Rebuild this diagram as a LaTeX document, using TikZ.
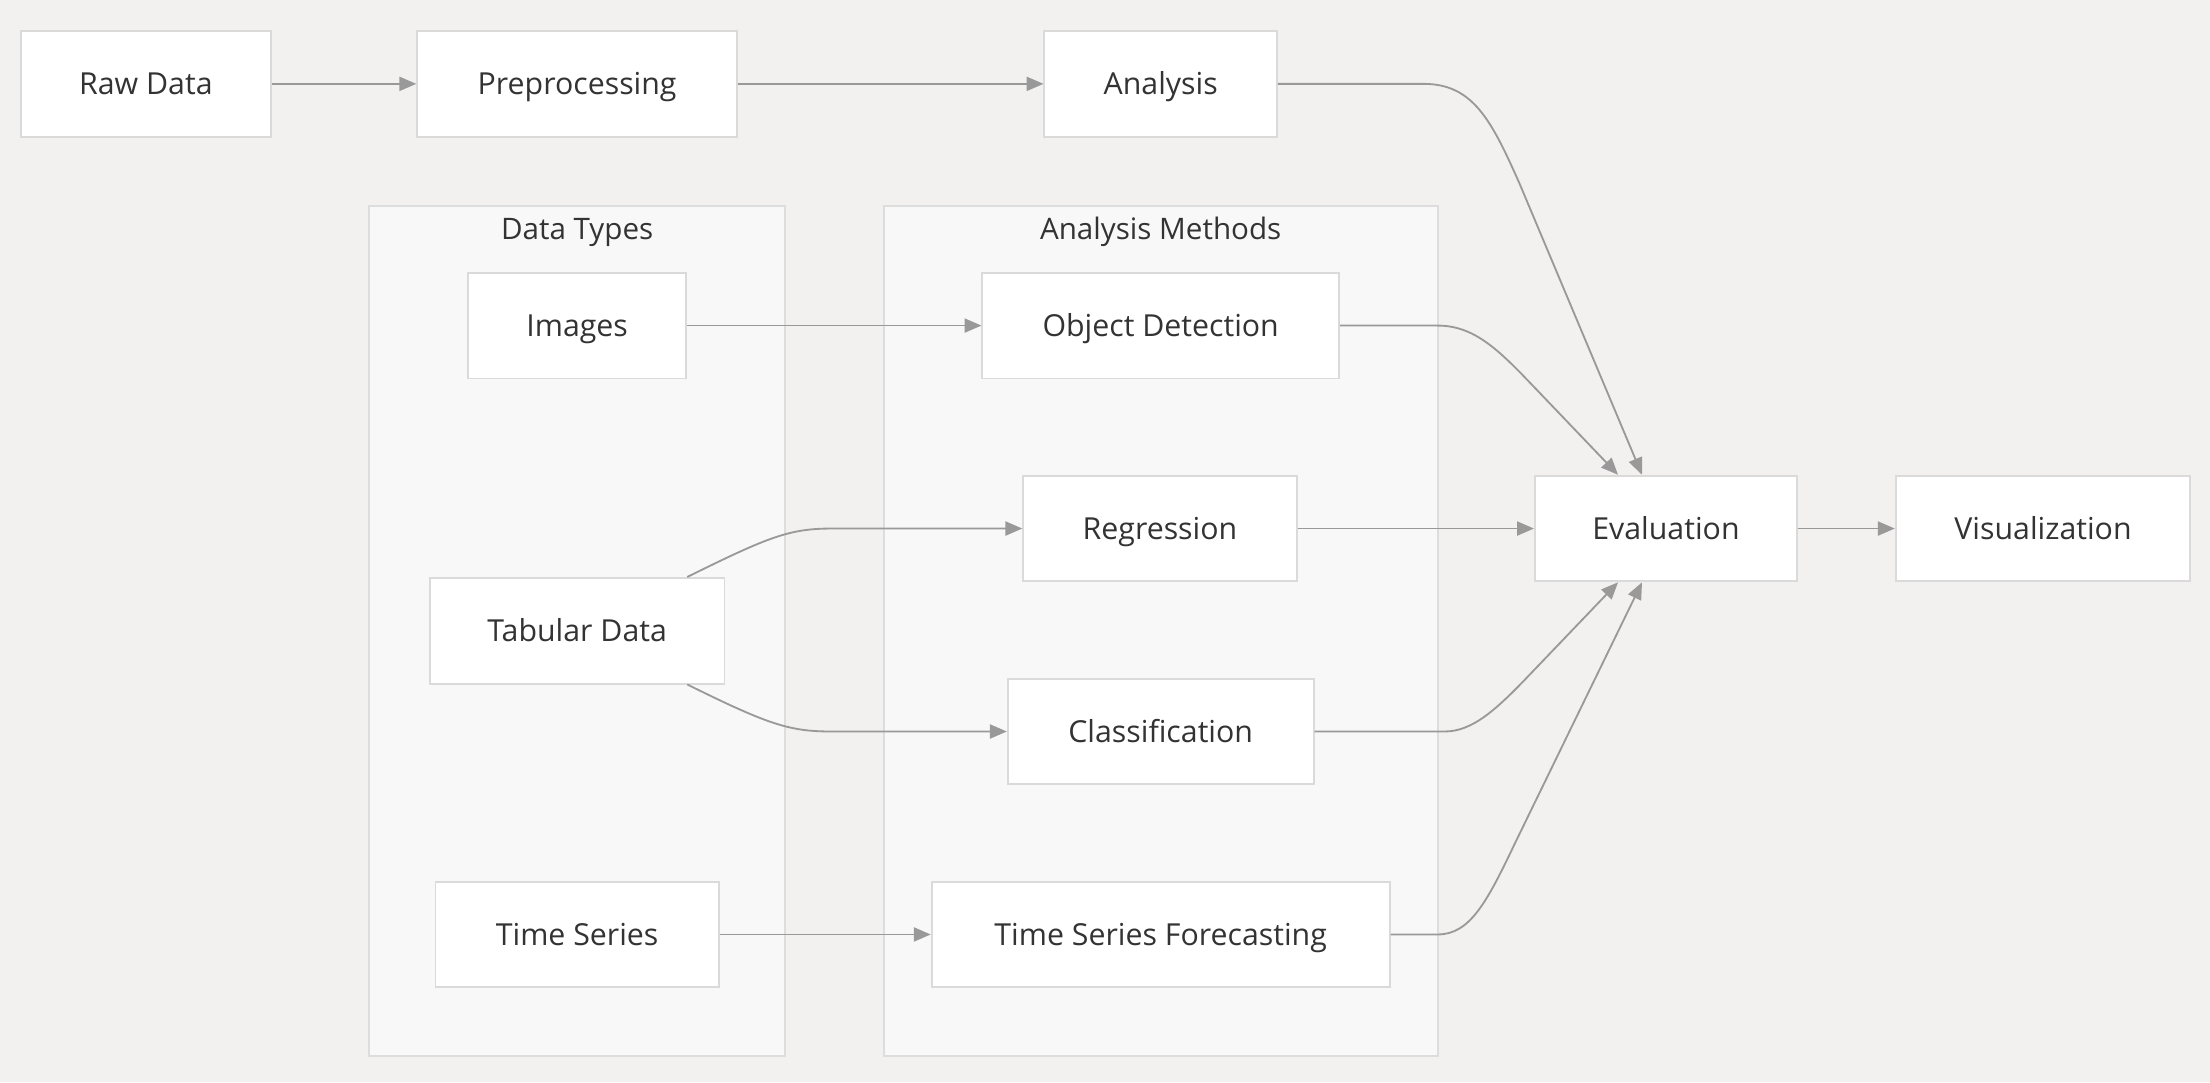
\documentclass[tikz,border=0pt]{standalone}
\usepackage{fontspec}
\setmainfont{Open Sans}
\usetikzlibrary{arrows.meta}
\definecolor{bgc}{HTML}{F2F1F0}
\definecolor{clfill}{HTML}{F8F8F8}
\definecolor{clline}{HTML}{DDDDDD}
\definecolor{ndline}{HTML}{DADADA}
\definecolor{edge}{HTML}{999999}
\definecolor{txt}{HTML}{333333}
\begin{document}
\begin{tikzpicture}[x=1pt,y=-1pt,
  box/.style={draw=ndline,line width=1.3pt,fill=white,inner sep=0pt,minimum height=75pt,text=txt,font=\fontsize{21.5}{25}\selectfont,text height=15.5pt,text depth=0pt},
  cluster/.style={draw=clline,line width=1.3pt,fill=clfill},
  ctitle/.style={text=txt,font=\fontsize{21}{25}\selectfont,inner sep=0pt,text height=15pt,text depth=0pt},
  conn/.style={draw=edge,line width=1.3pt,-{Triangle[length=12pt,width=10pt]}}]
\fill[bgc] (0,0) rectangle (1568,768);
\useasboundingbox (0,0) rectangle (1568,768);
% clusters
\draw[cluster] (262,146) rectangle (557,749);
\draw[cluster] (627,146) rectangle (1020,749);
\node[ctitle] (tDT) at (409.5,162.5) {Data Types};
\node[ctitle] (tAM) at (823.5,162.5) {Analysis Methods};
% nodes
\node[box,minimum width=177pt] (raw) at (103.5,59.5) {Raw Data};
\node[box,minimum width=227pt] (pre) at (409.5,59.5) {Preprocessing};
\node[box,minimum width=165pt] (ana) at (823.5,59.5) {Analysis};
\node[box,minimum width=155pt] (img) at (409.5,231) {Images};
\node[box,minimum width=209pt] (tab) at (409.5,447.5) {Tabular Data};
\node[box,minimum width=201pt] (ts) at (409.5,663) {Time Series};
\node[box,minimum width=253pt] (od) at (823.5,231) {Object Detection};
\node[box,minimum width=194pt] (reg) at (823,375) {Regression};
\node[box,minimum width=217pt] (cls) at (823.5,519) {Classification};
\node[box,minimum width=325pt] (tsf) at (823.5,663) {Time Series Forecasting};
\node[box,minimum width=186pt] (ev) at (1182,375) {Evaluation};
\node[box,minimum width=209pt] (vis) at (1449.5,375) {Visualization};
% anchor points
\coordinate (evn1) at ([xshift=-34pt]ev.north);
\coordinate (evn2) at ([xshift=-17pt]ev.north);
\coordinate (evs1) at ([xshift=-34pt]ev.south);
\coordinate (evs2) at ([xshift=-17pt]ev.south);
\coordinate (tabn) at ([xshift=-27pt]tab.north east);
\coordinate (tabs) at ([xshift=-27pt]tab.south east);
% edges
\draw[conn] (raw.east) -- (pre.west);
\draw[conn] (pre.east) -- (ana.west);
\draw[conn] (img.east) -- (od.west);
\draw[conn] (ts.east) -- (tsf.west);
\draw[conn] (reg.east) -- (ev.west);
\draw[conn] (ev.east) -- (vis.west);
\draw[conn] (ana.east) -- (1010,59.5) .. controls (1045,59.5) and (1058,85) .. (1078,130) -- (evn2);
\draw[conn] (od.east) -- (1020,231) .. controls (1045,231) and (1062,247) .. (1085,271) -- (evn1);
\draw[conn] (cls.east) -- (1025,519) .. controls (1045,519) and (1062,503) .. (1085,479) -- (evs1);
\draw[conn] (tsf.east) -- (1020,663) .. controls (1043,663) and (1055,640) .. (1075,598) -- (evs2);
\draw[conn] (tabn) .. controls (545,381) and (560,375) .. (590,375) -- (reg.west);
\draw[conn] (tabs) .. controls (545,514) and (560,519) .. (590,519) -- (cls.west);
\end{tikzpicture}
\end{document}
